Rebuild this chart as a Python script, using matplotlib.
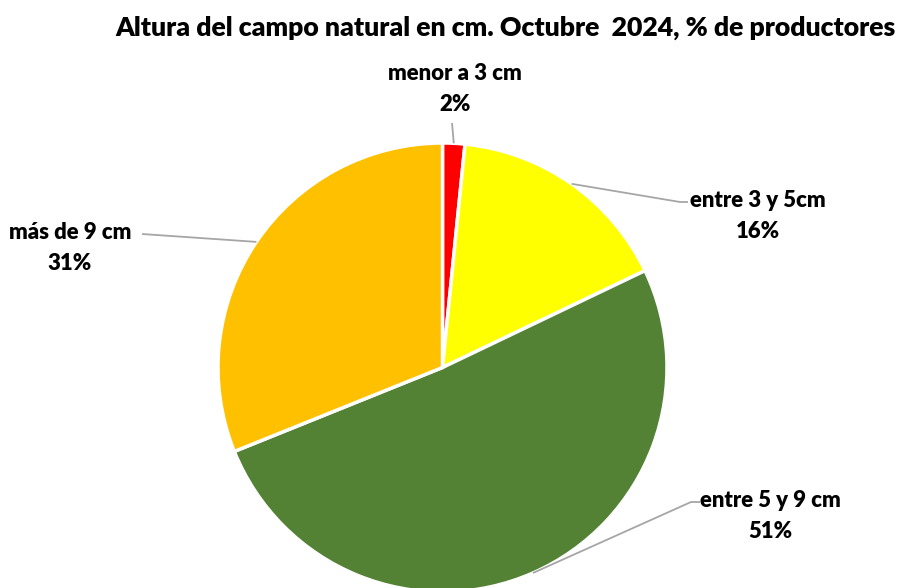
import numpy as np
import matplotlib
matplotlib.use("Agg")
import matplotlib.pyplot as plt

categories = ["menor a 3 cm", "entre 3 y 5cm", "entre 5 y 9 cm", "más de 9 cm"]
values = [1.6, 16.3, 51.0, 31.1]
colors = ["#FF0000", "#FFFF00", "#548235", "#FFC000"]
title = "Altura del campo natural en cm. Octubre  2024, % de productores"

# label anchor (elbow) positions in pixel coords (y from top)
label_elbow = [(452, 123), (680, 202), (691, 502), (142, 234)]
label_text_pos = [(455, 89), (758, 216), (770, 516), (70, 248)]

W, H = 898, 588
fig = plt.figure(figsize=(W / 100, H / 100), dpi=100)
ax = fig.add_axes([0, 0, 1, 1])
cx, cy, r = 442.5, H - 367.5, 224.5
wedges, _ = ax.pie(values, colors=colors, startangle=90, counterclock=False,
                   center=(cx, cy), radius=r,
                   wedgeprops=dict(edgecolor="white", linewidth=2.5))
ax.set_xlim(0, W)
ax.set_ylim(0, H)
ax.set_aspect("equal")
ax.axis("off")

font = "Lato"
total = sum(values)
for w, cat, v, elbow, tpos in zip(wedges, categories, values, label_elbow, label_text_pos):
    ang = np.deg2rad((w.theta1 + w.theta2) / 2)
    sx, sy = cx + r * np.cos(ang), cy + r * np.sin(ang)
    ex, ey = elbow[0], H - elbow[1]
    xs, ys = [sx, ex], [sy, ey]
    if cat == "entre 3 y 5cm":
        xs.append(ex + 8); ys.append(ey)
    elif cat == "entre 5 y 9 cm":
        xs.append(ex + 9); ys.append(ey)
    ax.plot(xs, ys, color="#A6A6A6", lw=1.3, solid_capstyle="butt")
    pct = f"{v / total * 100:.0f}%"
    ax.text(tpos[0], H - tpos[1], f"{cat}\n{pct}", ha="center", va="center",
            fontsize=15.9, fontweight="heavy", family=font, linespacing=1.6,
            color="#000000")

fig.text(505.5 / W, 1 - 28 / H, title, ha="center", va="center", fontsize=19.2,
         fontweight="heavy", family=font, color="#000000")

fig.savefig("out.png", dpi=100, facecolor="white")
